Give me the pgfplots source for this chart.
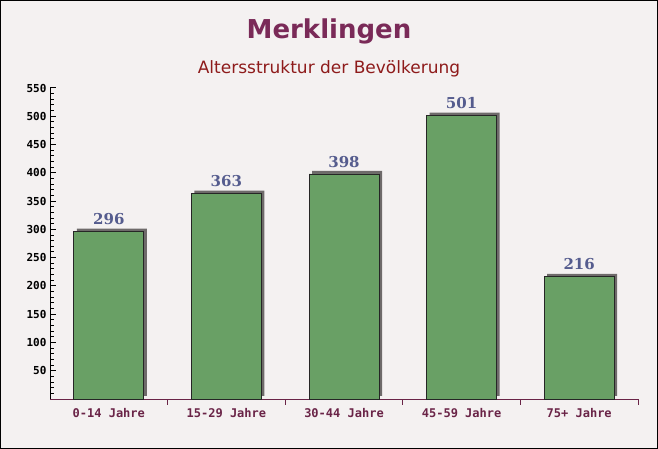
\documentclass[border=0pt]{standalone}
\usepackage{pgfplots}
\pgfplotsset{compat=1.18}
\usepackage{fontspec}
\setmainfont{DejaVu Sans}
\newfontfamily\monob{DejaVu Sans Mono}
\newfontfamily\serifb{DejaVu Serif}
\definecolor{bgc}{HTML}{F4F1F1}
\definecolor{titlec}{HTML}{7A2A58}
\definecolor{subc}{HTML}{8E1B1B}
\definecolor{barc}{HTML}{69A065}
\definecolor{shadc}{HTML}{6E6A6A}
\definecolor{valc}{HTML}{555C8E}
\definecolor{xlab}{HTML}{6A2447}
\begin{document}
\begin{tikzpicture}[x=1pt,y=1pt]
\fill[bgc] (0,0) rectangle (658,449);
\node[font=\fontsize{26}{30}\selectfont\bfseries, text=titlec] at (329,418) {Merklingen};
\node[font=\fontsize{17}{20}\selectfont, text=subc] at (329,380) {Altersstruktur der Bevölkerung};
\begin{axis}[
  at={(50pt,50pt)}, anchor=south west,
  scale only axis, width=588pt, height=311pt,
  xmin=-0.5, xmax=4.5, ymin=0, ymax=550,
  axis x line*=bottom, axis y line*=left,
  x axis line style={xlab},
  clip=false,
  xtick={0.5,1.5,2.5,3.5,4.5},
  xticklabels={},
  extra x ticks={0,1,2,3,4},
  extra x tick labels={0-14 Jahre,15-29 Jahre,30-44 Jahre,45-59 Jahre,75+ Jahre},
  extra x tick style={major tick length=0pt},
  ytick={50,100,...,550},
  minor ytick={10,20,...,540},
  ytick pos=left,
  tick align=inside,
  major tick length=6pt, minor tick length=4pt,
  tick style={line width=1pt},
  x tick style={draw=xlab},
  every major y tick/.style={draw=black, line width=1pt},
  every minor y tick/.style={draw=black, line width=1pt},
  xticklabel style={font=\fontsize{12}{13}\selectfont\monob\bfseries, text=xlab, yshift=-6pt},
  yticklabel style={font=\fontsize{11}{12}\selectfont\monob\bfseries, text=black},
  /pgf/number format/assume math mode=true,
  ybar, bar width=70pt, bar shift=0pt,
]
\addplot[fill=shadc, draw=none, xshift=3pt, yshift=3pt] coordinates {(0,296) (1,363) (2,398) (3,501) (4,216)};
\addplot[fill=barc, draw=black!85, line width=0.8pt,
  nodes near coords,
  every node near coord/.append style={font=\fontsize{15}{16}\selectfont\serifb\bfseries, text=valc, yshift=3pt}]
  coordinates {(0,296) (1,363) (2,398) (3,501) (4,216)};
\end{axis}
\draw[black, line width=1pt] (0.5,0.5) rectangle (657.5,448.5);
\end{tikzpicture}
\end{document}
